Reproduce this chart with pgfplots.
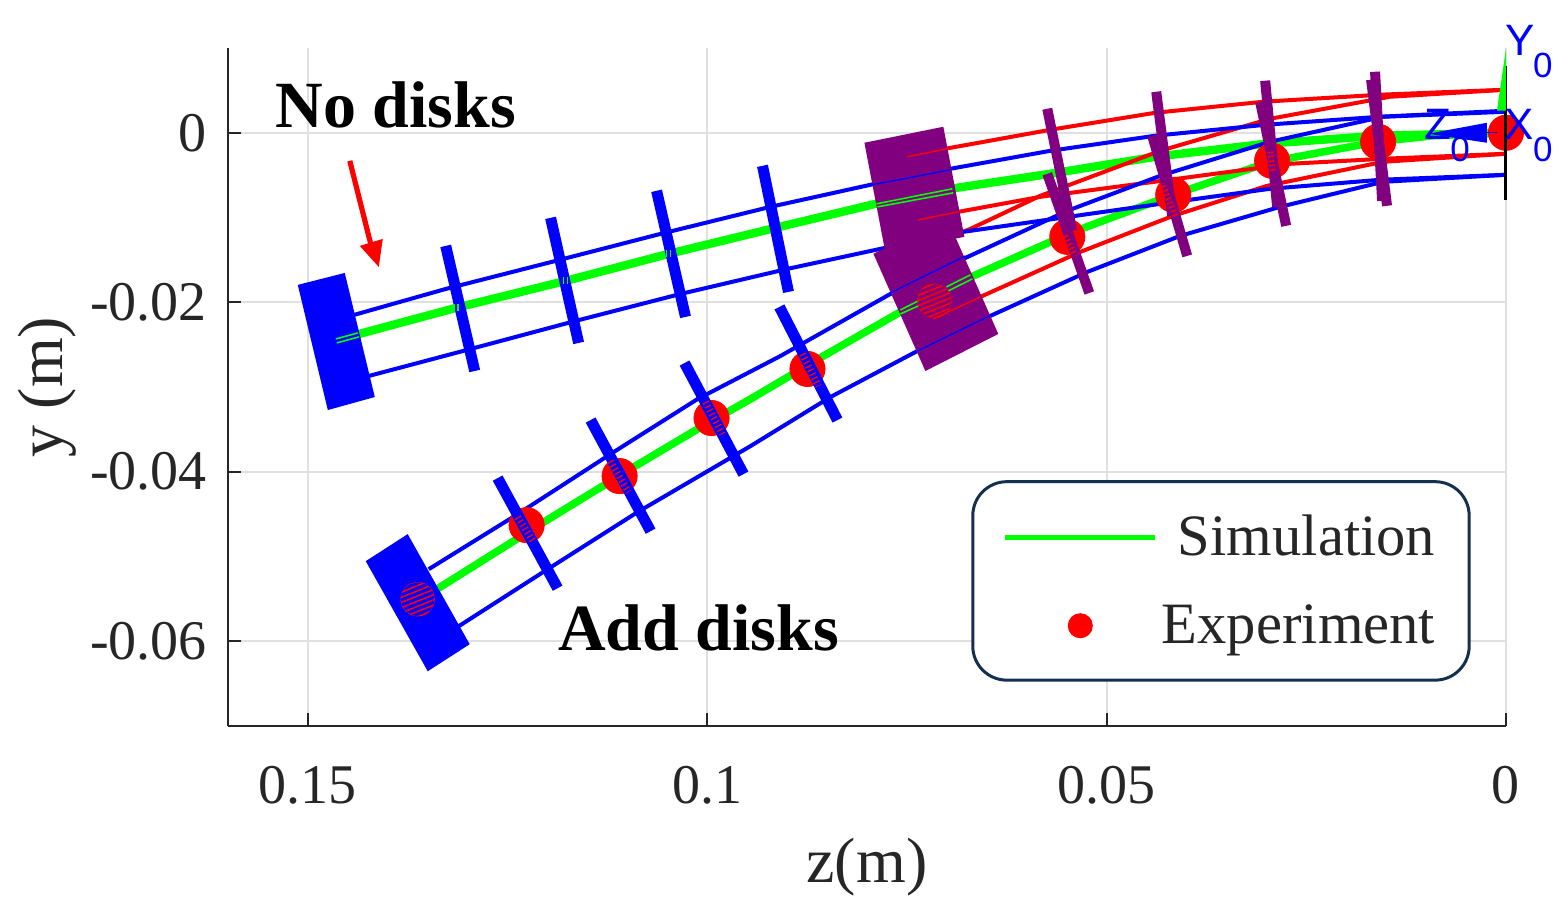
\documentclass[border=0pt]{standalone}
\usepackage{fontspec}
\setmainfont{Liberation Serif}
\newfontfamily\labelsans{Liberation Sans}
\usepackage{pgfplots}
\pgfplotsset{compat=1.18}
\usetikzlibrary{patterns.meta}
\definecolor{axgray}{gray}{0.15}
\definecolor{gridgray}{gray}{0.88}
\definecolor{legframe}{HTML}{15304F}
\definecolor{dpurple}{HTML}{800080}
\definecolor{lime}{rgb}{0,1,0}
\pgfplotsset{
    simg/.style={forget plot,color=lime,line width=4.2pt},
    redl/.style={forget plot,color=red,line width=2pt},
    bluel/.style={forget plot,color=blue,line width=2pt},
    bdisk/.style={forget plot,color=blue,line width=5.5pt},
    pdisk/.style={forget plot,color=dpurple,line width=5pt},
    thing/.style={forget plot,color=lime,line width=0.8pt},
    thinr/.style={forget plot,color=red,line width=0.7pt},
    thinb/.style={forget plot,color=blue,line width=0.7pt},
    stripes/.style={forget plot,color=red,line width=#1,dash pattern=on 0.7pt off 1.5pt},
    poly/.style={forget plot,draw=none,fill=#1},
}
\tikzset{
    frame0/.style={font=\labelsans\fontsize{22}{22}\selectfont,text=blue,inner sep=0pt},
    sub0/.style={font=\labelsans\fontsize{17.5}{17.5}\selectfont,text=blue,inner sep=0pt},
    callout/.style={font=\bfseries\fontsize{33}{33}\selectfont,text=black,inner sep=0pt},
}
\begin{document}
\begin{tikzpicture}
\useasboundingbox (-114pt,-97pt) rectangle (670pt,363pt);
\begin{axis}[
    scale only axis,
    width=639pt,
    height=339pt,
    x dir=reverse,
    xmin=0, xmax=0.16,
    ymin=-0.07, ymax=0.01,
    clip=false,
    clip marker paths=true,
    scaled ticks=false,
    axis x line*=bottom,
    axis y line*=left,
    axis line style={-,color=axgray,line width=1pt},
    tick align=inside,
    major tick length=6.5pt,
    tick style={color=axgray,line width=1pt},
    xtick={0,0.05,0.1,0.15},
    xticklabels={0,0.05,0.1,0.15},
    ytick={-0.06,-0.04,-0.02,0},
    yticklabels={-0.06,-0.04,-0.02,0},
    ticklabel style={font=\fontsize{28}{28}\selectfont,text=axgray},
    xticklabel style={yshift=-16.5pt},
    yticklabel style={xshift=-7pt},
    grid=major,
    grid style={color=gridgray,line width=1pt},
    xlabel={z(m)},
    ylabel={y (m)},
    xlabel style={yshift=-10pt},
    label style={font=\fontsize{32}{32}\selectfont,text=axgray},
    legend cell align=right,
    legend style={
        at={(0.777,0.214)},anchor=center,
        draw=legframe,line width=1.5pt,rounded corners=17pt,fill=white,
        font=\fontsize{29.3}{29.3}\selectfont,text=axgray,
        inner xsep=15pt,inner ysep=14.75pt,
        /tikz/every even column/.append style={column sep=4pt},
        /tikz/row sep=19pt,
    },
    legend image code/.code={\draw[mark repeat=2,mark phase=2,#1] plot coordinates {(0pt,0pt)(37.5pt,0pt)(75pt,0pt)};},
]
\addlegendimage{color=lime,line width=2.5pt}
\addlegendimage{only marks,mark=*,mark size=5.5pt,color=red,mark options={fill=red,draw=red}}

% no disks, centre line
\addplot[simg] coordinates {(0,0)(0.01601,-0.00035)(0.03015,-0.00130)(0.04391,-0.00283)(0.05705,-0.00484)(0.06956,-0.00661)(0.07894,-0.00839)(0.09146,-0.01122)(0.10484,-0.01429)(0.11773,-0.01748)(0.13149,-0.02067)(0.14638,-0.02445)};
% add disks, centre line
\addplot[simg,line width=3.8pt] coordinates {(0,0)(0.00913,-0.00035)(0.01614,-0.00106)(0.02953,-0.00343)(0.04204,-0.00744)(0.05417,-0.01169)(0.06668,-0.01689)(0.07582,-0.02114)(0.08545,-0.02634)(0.09458,-0.03142)(0.10121,-0.03496)(0.10922,-0.03945)(0.12048,-0.04595)(0.13424,-0.05409)};

% red sections
\addplot[redl] coordinates {(0,0.00508)(0.01576,0.00449)(0.03040,0.00366)(0.04391,0.00236)(0.05705,0.00035)(0.07019,-0.00189)(0.07494,-0.00283)};
\addplot[redl] coordinates {(0,-0.00248)(0.01539,-0.00307)(0.02702,-0.00366)(0.04116,-0.00543)(0.05830,-0.00756)(0.06856,-0.00933)(0.07357,-0.01028)};
\addplot[redl] coordinates {(0,0.00508)(0.01451,0.00425)(0.02953,0.00165)(0.04329,-0.00213)(0.05830,-0.00744)(0.06706,-0.01134)(0.07019,-0.01252)};
\addplot[redl] coordinates {(0,-0.00248)(0.01539,-0.00343)(0.02990,-0.00626)(0.04166,-0.00980)(0.05330,-0.01406)(0.06581,-0.01937)(0.06919,-0.02102)(0.07169,-0.02197)};

% blue sections
\addplot[bluel] coordinates {(0,0.00260)(0.01576,0.00189)(0.03015,0.00094)(0.04391,-0.00035)(0.05705,-0.00213)(0.06956,-0.00425)(0.07957,-0.00614)(0.09208,-0.00874)(0.10584,-0.01193)(0.11898,-0.01512)(0.13274,-0.01843)(0.14425,-0.02150)};
\addplot[bluel] coordinates {(0,-0.00496)(0.01576,-0.00555)(0.02953,-0.00661)(0.04329,-0.00839)(0.05830,-0.01039)(0.06793,-0.01169)(0.07832,-0.01370)(0.08995,-0.01606)(0.10334,-0.01902)(0.11648,-0.02220)(0.12961,-0.02551)(0.14238,-0.02870)};
\addplot[bluel] coordinates {(0,0.00248)(0.01539,0.00189)(0.02953,-0.00106)(0.04329,-0.00508)(0.05492,-0.00921)(0.06793,-0.01488)(0.07707,-0.01902)(0.09083,-0.02634)(0.10121,-0.03142)(0.11172,-0.03768)(0.12373,-0.04500)(0.13487,-0.05150)};
\addplot[bluel] coordinates {(0,-0.00496)(0.01539,-0.00579)(0.02827,-0.00874)(0.04079,-0.01217)(0.05242,-0.01642)(0.06456,-0.02161)(0.07369,-0.02575)(0.08457,-0.03118)(0.09458,-0.03697)(0.10872,-0.04476)(0.11998,-0.05150)(0.13112,-0.05823)};

% experiment points
\addplot[forget plot,only marks,mark=*,mark size=8.8pt,color=red,mark options={fill=red,draw=none}] coordinates {(0,0)(0.01601,-0.00106)(0.02928,-0.00331)(0.04166,-0.00732)(0.05492,-0.01228)(0.08745,-0.02787)(0.09946,-0.03366)(0.11097,-0.04051)(0.12261,-0.04630)};

% base plates
\addplot[poly=blue] coordinates {(0.15126,-0.01795)(0.14538,-0.01654)(0.14162,-0.03118)(0.14750,-0.03272)} --cycle;
\addplot[poly=blue] coordinates {(0.14275,-0.05055)(0.13750,-0.04736)(0.12974,-0.06035)(0.13499,-0.06354)} --cycle;
\addplot[poly=dpurple] coordinates {(0.08032,-0.00118)(0.07044,0.00071)(0.06781,-0.01228)(0.07769,-0.01417)} --cycle;
\addplot[poly=dpurple] coordinates {(0.07919,-0.01429)(0.07006,-0.00992)(0.06356,-0.02374)(0.07269,-0.02811)} --cycle;

% disks
\addplot[bdisk] coordinates {(0.13274,-0.01335)(0.12911,-0.02811)};
\addplot[bdisk] coordinates {(0.11961,-0.01004)(0.11610,-0.02480)};
\addplot[bdisk] coordinates {(0.10634,-0.00685)(0.10272,-0.02173)};
\addplot[bdisk] coordinates {(0.09308,-0.00390)(0.08983,-0.01878)};
\addplot[bdisk] coordinates {(0.12624,-0.04075)(0.11873,-0.05374)};
\addplot[bdisk] coordinates {(0.11460,-0.03390)(0.10709,-0.04701)};
\addplot[bdisk] coordinates {(0.10284,-0.02717)(0.09546,-0.04028)};
\addplot[bdisk] coordinates {(0.09096,-0.02055)(0.08370,-0.03390)};
\addplot[pdisk] coordinates {(0.05743,0.00283)(0.05430,-0.01157)};
\addplot[pdisk] coordinates {(0.05743,-0.00484)(0.05217,-0.01890)};
\addplot[pdisk] coordinates {(0.04379,0.00484)(0.04179,-0.00980)};
\addplot[pdisk] coordinates {(0.04429,-0.00035)(0.03991,-0.01453)};
\addplot[pdisk] coordinates {(0.03015,0.00614)(0.02865,-0.00874)};
\addplot[pdisk] coordinates {(0.03078,0.00366)(0.02752,-0.01098)};
\addplot[pdisk] coordinates {(0.01639,0.00720)(0.01551,-0.00803)};
\addplot[pdisk] coordinates {(0.01689,0.00626)(0.01489,-0.00862)};

% lines showing through the plates
\addplot[thing] coordinates {(0.07882,-0.00839)(0.06931,-0.00661)};
\addplot[thing] coordinates {(0.07869,-0.00874)(0.06919,-0.00709)};
\addplot[thing] coordinates {(0.07582,-0.02091)(0.07357,-0.01984)};
\addplot[thing] coordinates {(0.07582,-0.02138)(0.07357,-0.02043)};
\addplot[thing] coordinates {(0.07006,-0.01819)(0.06706,-0.01677)};
\addplot[thing] coordinates {(0.06981,-0.01866)(0.06681,-0.01724)};
\addplot[thing] coordinates {(0.14650,-0.02433)(0.14375,-0.02362)};
\addplot[thing] coordinates {(0.14638,-0.02480)(0.14363,-0.02409)};
\addplot[thing] coordinates {(0.13174,-0.02026)(0.13174,-0.02108)};
\addplot[thing] coordinates {(0.13124,-0.02026)(0.13124,-0.02108)};
\addplot[thing] coordinates {(0.11798,-0.01707)(0.11798,-0.01789)};
\addplot[thing] coordinates {(0.11748,-0.01707)(0.11748,-0.01789)};
\addplot[thing] coordinates {(0.10509,-0.01388)(0.10509,-0.01470)};
\addplot[thing] coordinates {(0.10459,-0.01388)(0.10459,-0.01470)};
\addplot[thinr] coordinates {(0.07494,-0.00283)(0.06994,-0.00189)};
\addplot[thinr] coordinates {(0.07357,-0.01028)(0.06856,-0.00933)};
\addplot[thinr] coordinates {(0.07169,-0.02197)(0.06581,-0.01937)};
\addplot[thinb] coordinates {(0.07932,-0.00614)(0.06956,-0.00437)};
\addplot[thinb] coordinates {(0.07707,-0.01890)(0.06768,-0.01453)};
\addplot[thinb] coordinates {(0.07369,-0.02575)(0.06468,-0.02161)};

% points showing through plates and disks
\addplot[forget plot,only marks,mark=*,mark size=8.5pt,mark options={draw=red,line width=0.15pt,pattern={Lines[angle=22,distance=2.4pt,line width=0.8pt]},pattern color=red}] coordinates {(0.07156,-0.01984)(0.13625,-0.05504)};
\addplot[stripes=3.5pt] coordinates {(0.12373,-0.04535)(0.12173,-0.04831)};
\addplot[stripes=3.5pt] coordinates {(0.11210,-0.03874)(0.10985,-0.04240)};
\addplot[stripes=3.5pt] coordinates {(0.10021,-0.03177)(0.09809,-0.03555)};
\addplot[stripes=3.5pt] coordinates {(0.08808,-0.02610)(0.08608,-0.02988)};
\addplot[stripes=3pt] coordinates {(0.05517,-0.01217)(0.05392,-0.01453)};
\addplot[stripes=3pt] coordinates {(0.04291,-0.00626)(0.04141,-0.00980)};
\addplot[stripes=3pt] coordinates {(0.02953,-0.00224)(0.02915,-0.00461)};

% frame at the origin
\addplot[forget plot,color=black,line width=1.5pt] coordinates {(0,0.00791)(0,-0.00791)};
\addplot[poly=lime] coordinates {(0,0.00992)(0.00113,0.00260)(0,0.00260)} --cycle;
\addplot[forget plot,color=blue,line width=0.7pt] coordinates {(0.00113,0)(0.00238,0)};
\addplot[poly=blue] coordinates {(0.00238,0.00118)(0.00238,-0.00118)(0.00976,-0.00012)} --cycle;

% arrow at the first label
\addplot[forget plot,color=red,line width=2.6pt] coordinates {(0.14475,-0.00331)(0.14213,-0.01311)};
\addplot[poly=red] coordinates {(0.14350,-0.01335)(0.14062,-0.01252)(0.14112,-0.01583)} --cycle;

\node[frame0] at (axis cs:-0.00175,0.01087) {Y};
\node[sub0] at (axis cs:-0.00463,0.00791) {0};
\node[frame0] at (axis cs:-0.00163,0.00094) {X};
\node[sub0] at (axis cs:-0.00463,-0.00201) {0};
\node[frame0] at (axis cs:0.00851,0.00094) {Z};
\node[sub0] at (axis cs:0.00576,-0.00201) {0};
\node[callout] at (axis cs:0.13900,0.00331) {No disks};
\node[callout] at (axis cs:0.10110,-0.05848) {Add disks};

\legend{Simulation,Experiment}
\end{axis}
\end{tikzpicture}
\end{document}
